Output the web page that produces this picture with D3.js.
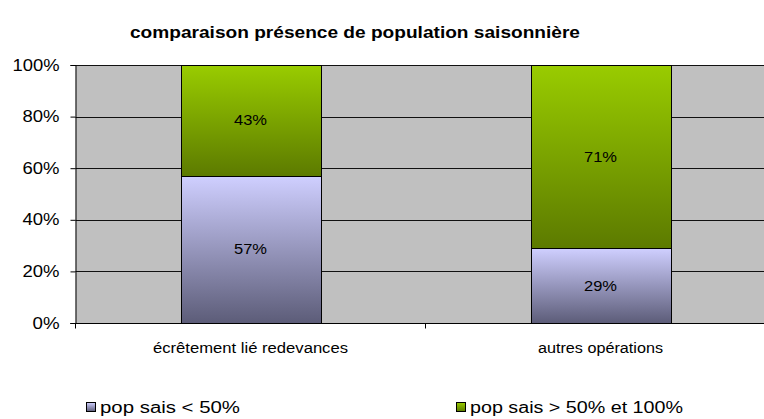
<!DOCTYPE html>
<html>
<head>
<meta charset="utf-8">
<script src="https://cdn.jsdelivr.net/npm/d3@7"></script>
<style>
  body { margin: 0; background: #fff; }
  text { font-family: "Liberation Sans", Arial, sans-serif; fill: #000; }
</style>
</head>
<body>
<svg id="chart"></svg>
<script>
const categories = ["écrêtement lié redevances", "autres opérations"];
const seriesNames = ["pop sais < 50%", "pop sais > 50% et 100%"];
const lowValues = [0.57, 0.29];
const highValues = [0.43, 0.71];
const yTicks = [0, 0.2, 0.4, 0.6, 0.8, 1];
const titleText = "comparaison présence de population saisonnière";

const width = 764, height = 419;
const margin = { top: 65, left: 75.5, bottom: 96 };
const plotRight = 775.5; // plot area runs past the right edge of the image
const gradients = [
  { id: "gradLow", top: "#cfcfff", bottom: "#5c5c78" },
  { id: "gradHigh", top: "#99cc00", bottom: "#5c7a00" },
];

const svg = d3.select("#chart").attr("width", width).attr("height", height);

const defs = svg.append("defs");
gradients.forEach((g) => {
  const lg = defs.append("linearGradient").attr("id", g.id)
    .attr("x1", 0).attr("y1", 0).attr("x2", 0).attr("y2", 1);
  lg.append("stop").attr("offset", "0%").attr("stop-color", g.top);
  lg.append("stop").attr("offset", "100%").attr("stop-color", g.bottom);
});

const x = d3.scaleBand().domain(categories)
  .range([margin.left, plotRight]).paddingInner(0.6).paddingOuter(0.3);
const y = d3.scaleLinear().domain([0, 1]).range([height - margin.bottom, margin.top]);

// stretched text helper: the source picture is scaled horizontally
function stretched(sel, w) {
  return sel.attr("textLength", w).attr("lengthAdjust", "spacingAndGlyphs");
}

// plot background
svg.append("rect")
  .attr("x", margin.left).attr("y", y(1))
  .attr("width", plotRight - margin.left).attr("height", y(0) - y(1))
  .attr("fill", "#c0c0c0");

// gridlines
svg.append("g").selectAll("line")
  .data(yTicks.filter((d) => d > 0))
  .join("line")
  .attr("x1", margin.left).attr("x2", plotRight)
  .attr("y1", (d) => Math.round(y(d)) + 0.5).attr("y2", (d) => Math.round(y(d)) + 0.5)
  .attr("stroke", "#111").attr("stroke-width", 1);

// stacked bars
const stackData = categories.map((c, i) => ({ cat: c, low: lowValues[i], high: highValues[i] }));
const stack = d3.stack().keys(["low", "high"])(stackData);

const barG = svg.append("g");
stack.forEach((layer, li) => {
  barG.append("g").selectAll("rect")
    .data(layer)
    .join("rect")
    .attr("x", (d) => Math.round(x(d.data.cat)) + 0.5)
    .attr("y", (d) => Math.round(y(d[1])) + 0.5)
    .attr("width", Math.round(x.bandwidth()))
    .attr("height", (d) => Math.round(y(d[0])) - Math.round(y(d[1])))
    .attr("fill", `url(#${gradients[li].id})`)
    .attr("stroke", "#000").attr("stroke-width", 1);

  barG.append("g").selectAll("text")
    .data(layer)
    .join("text")
    .attr("x", (d) => x(d.data.cat) + x.bandwidth() / 2)
    .attr("y", (d) => (y(d[0]) + y(d[1])) / 2 + 5)
    .attr("text-anchor", "middle")
    .style("font-size", "15px")
    .text((d) => d3.format(".0%")(d[1] - d[0]))
    .call(stretched, 33);
});

// y axis
const yAxis = svg.append("g")
  .attr("transform", `translate(${margin.left},0)`)
  .call(d3.axisLeft(y).tickValues(yTicks).tickFormat(d3.format(".0%")).tickSize(5).tickPadding(11));
yAxis.select(".domain").attr("stroke", "#000");
yAxis.selectAll(".tick line").attr("stroke", "#000");
yAxis.selectAll(".tick text")
  .style("font-size", "16px")
  .style("font-family", '"Liberation Sans", Arial, sans-serif')
  .attr("fill", "#000")
  .each(function (d) {
    d3.select(this).call(stretched, d === 1 ? 47 : d === 0 ? 27 : 37);
  });

// x axis: ticks sit between categories
const xAxisG = svg.append("g").attr("transform", `translate(0,${Math.round(y(0)) + 0.5})`);
xAxisG.append("line")
  .attr("x1", margin.left - 5).attr("x2", plotRight)
  .attr("stroke", "#000");
const step = x.step();
xAxisG.selectAll(".xtick")
  .data(d3.range(categories.length + 1))
  .join("line")
  .attr("x1", (i) => margin.left + i * step).attr("x2", (i) => margin.left + i * step)
  .attr("y1", 0).attr("y2", 5)
  .attr("stroke", "#000");
xAxisG.selectAll(".xlabel")
  .data(categories)
  .join("text")
  .attr("x", (d) => x(d) + x.bandwidth() / 2)
  .attr("y", 29)
  .attr("text-anchor", "middle")
  .style("font-size", "14px")
  .text((d) => d)
  .each(function (d, i) {
    d3.select(this).call(stretched, i === 0 ? 195 : 125);
  });

// title
svg.append("text")
  .attr("x", 355).attr("y", 38)
  .attr("text-anchor", "middle")
  .style("font-size", "17px").style("font-weight", "bold")
  .text(titleText)
  .call(stretched, 450);

// legend
const legendX = [86, 456];
const legendWidths = [140, 213];
const legend = svg.append("g").selectAll("g")
  .data(seriesNames)
  .join("g")
  .attr("transform", (d, i) => `translate(${legendX[i]},402)`);
legend.append("rect")
  .attr("x", 0.5).attr("y", 0.5).attr("width", 9).attr("height", 9)
  .attr("fill", (d, i) => `url(#${gradients[i].id})`)
  .attr("stroke", "#000");
legend.append("text")
  .attr("x", 14).attr("y", 11)
  .style("font-size", "16px")
  .text((d) => d)
  .each(function (d, i) {
    d3.select(this).call(stretched, legendWidths[i]);
  });
</script>
</body>
</html>
